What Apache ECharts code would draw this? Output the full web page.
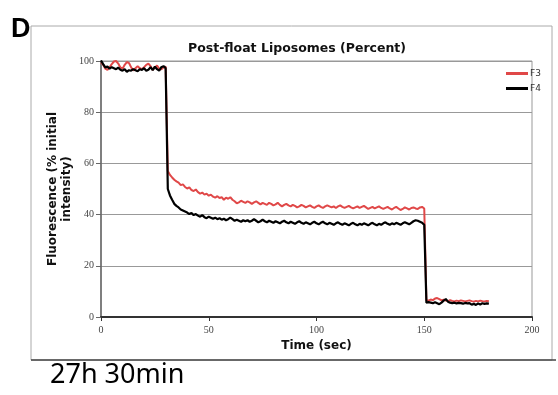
<!DOCTYPE html>
<html>
<head>
<meta charset="utf-8">
<script src="https://cdn.jsdelivr.net/npm/echarts@6/dist/echarts.min.js"></script>
<style>
  html, body { margin: 0; padding: 0; background: #fff; }
  #chart { width: 558px; height: 395px; }
</style>
</head>
<body>
<div id="chart"></div>
<script>
// sample spacing in seconds (values below are one reading per second, t = 0..180)
const STEP = 1;

const seriesNames = ["F3", "F4"];

const xTicks = [0, 50, 100, 150, 200];
const yTicks = [0, 20, 40, 60, 80, 100];

// F3 (red)
const f3Values = [
  99.5, 98.5, 97, 96.5, 97.5, 98.8, 99.8, 100, 99, 97.5,
  97, 98.5, 99.6, 99.2, 97.5, 96.3, 97.2, 98, 97.2, 96.8,
  97.6, 98.5, 99, 98, 96.5, 97.5, 98.2, 97, 96.8, 97.5,
  97.8, 57, 55.5, 54.5, 53.6, 53, 52.5, 51.5, 51.8, 50.8,
  50.2, 50.6, 49.6, 49.2, 49.8, 48.8, 48.2, 48.6, 47.8, 48.2,
  47.4, 47.8, 47, 46.6, 47.2, 46.5, 46.8, 45.8, 46.6, 46.2,
  46.8, 45.8, 45.2, 44.4, 44.8, 45.4, 45, 44.6, 45.2, 44.8,
  44.2, 44.8, 45.2, 44.6, 44, 44.6, 44.2, 43.8, 44.6, 44.2,
  43.6, 44, 44.6, 43.8, 43.2, 43.8, 44.2, 43.6, 43.2, 43.8,
  43.4, 42.8, 43.2, 43.8, 43.4, 42.8, 43.2, 43.6, 43, 42.6,
  43.2, 43.6, 43, 42.6, 43.2, 43.6, 43.2, 42.8, 43.2, 42.6,
  43.2, 43.6, 43, 42.6, 43, 43.4, 42.8, 42.4, 42.8, 43.2,
  42.6, 43, 43.4, 42.8, 42.2, 42.6, 43, 42.4, 42.8, 43.2,
  42.6, 42.2, 42.6, 43, 42.4, 42, 42.6, 43, 42.4, 41.8,
  42.2, 42.8, 42.4, 42, 42.6, 42.8, 42.4, 42.2, 42.8, 43,
  42.4, 6.5, 6.4, 6.8, 6.6, 7.2, 7.4, 7, 6.5, 6.8,
  6.4, 6.2, 6.6, 6.3, 6.1, 6.4, 6.2, 6.5, 6.3, 6.1,
  6.3, 6.5, 6.2, 6, 6.3, 6.1, 6.4, 6.2, 6.1, 6.3,
  6.2
];

// F4 (black)
const f4Values = [
  100.2, 98.8, 97.5, 97.8, 97, 97.6, 97.2, 96.8, 97.4, 96.6,
  96.2, 96.8, 95.8, 96.4, 96.2, 96.8, 96.4, 96, 96.8, 96.5,
  97.2, 96.2, 96.6, 97.6, 96.4, 97.8, 96.8, 96.2, 97.6, 98,
  97.2, 50, 47.5, 45.8, 44.2, 43.4, 42.8, 42, 41.6, 41.2,
  40.8, 40.2, 40.6, 39.8, 40.2, 39.6, 39.2, 39.8, 39, 38.6,
  39.2, 38.8, 38.4, 38.8, 38.2, 38.6, 38, 38.4, 37.8, 38.2,
  38.8, 38.2, 37.6, 38, 37.6, 37.2, 37.8, 37.4, 37.8, 37.2,
  37.6, 38.2, 37.6, 37, 37.4, 38, 37.4, 37, 37.6, 37.2,
  36.8, 37.4, 37, 36.6, 37.2, 37.6, 37, 36.6, 37.2, 36.8,
  36.4, 37, 37.4, 36.8, 36.4, 37, 36.6, 36.2, 36.8, 37.2,
  36.6, 36.2, 36.8, 37.2, 36.6, 36.2, 36.8, 36.4, 36, 36.6,
  37, 36.4, 36, 36.6, 36.2, 35.8, 36.4, 36.8, 36.2, 35.8,
  36.4, 36, 36.6, 36.2, 35.8, 36.4, 36.8, 36.2, 35.8, 36.4,
  36, 36.6, 37, 36.4, 36, 36.6, 36.2, 36.8, 36.4, 36,
  36.6, 37, 36.6, 36.2, 36.8, 37.4, 37.8, 37.6, 37.2, 36.8,
  36, 5.6, 5.8, 5.6, 5.4, 5.8, 5.4, 5, 5.6, 6.4,
  7, 6, 5.6, 5.4, 5.6, 5.3, 5.5, 5.4, 5.2, 5.5,
  5.3, 5.4, 4.8, 5.2, 4.7, 5.3, 4.9, 5.4, 5.1, 5.3,
  5.2
];

const toPoints = (values) => values.map((v, i) => [i * STEP, v]);

const chart = echarts.init(document.getElementById("chart"));

const labelFont = "DejaVu Sans";
const tickFont = "Liberation Serif";

chart.setOption({
  animation: false,
  backgroundColor: "#fff",
  title: {
    text: "Post-float Liposomes (Percent)",
    left: 292,
    top: 37,
    textAlign: "center",
    textStyle: {
      fontFamily: labelFont,
      fontWeight: "bold",
      fontSize: 12.5,
      color: "#111",
    },
  },
  legend: {
    data: seriesNames,
    orient: "vertical",
    left: 506,
    top: 68,
    padding: 0,
    itemGap: 4,
    itemWidth: 22,
    itemHeight: 3,
    icon: "rect",
    textStyle: {
      fontFamily: labelFont,
      fontSize: 9,
      lineHeight: 11,
      color: "#333",
      padding: [0, 0, 0, -3],
    },
  },
  grid: {
    left: 101,
    top: 61,
    width: 431,
    height: 256,
    show: true,
    borderColor: "#999",
    borderWidth: 1,
  },
  xAxis: {
    type: "value",
    min: xTicks[0],
    max: xTicks[xTicks.length - 1],
    interval: 50,
    name: "Time (sec)",
    nameLocation: "middle",
    nameGap: 22,
    nameTextStyle: {
      fontFamily: labelFont,
      fontWeight: "bold",
      fontSize: 12,
      color: "#111",
    },
    axisLine: { show: true, lineStyle: { color: "#333", width: 2 } },
    axisTick: { show: true, length: 4, lineStyle: { color: "#333" } },
    splitLine: { show: false },
    axisLabel: {
      margin: 8,
      fontFamily: tickFont,
      fontSize: 10,
      color: "#444",
    },
  },
  yAxis: {
    type: "value",
    min: yTicks[0],
    max: yTicks[yTicks.length - 1],
    interval: 20,
    name: "Fluorescence (% initial\nintensity)",
    nameLocation: "middle",
    nameGap: 27,
    nameMoveOverlap: false,
    nameTextStyle: {
      fontFamily: labelFont,
      fontWeight: "bold",
      fontSize: 12,
      lineHeight: 14,
      color: "#111",
      align: "center",
    },
    axisLine: { show: true, lineStyle: { color: "#666", width: 1.5 } },
    axisTick: { show: true, length: 5, lineStyle: { color: "#666" } },
    splitLine: { show: true, lineStyle: { color: "#999", width: 1 } },
    axisLabel: {
      margin: 7,
      fontFamily: tickFont,
      fontSize: 10,
      color: "#444",
    },
  },
  series: [
    {
      name: "F3",
      type: "line",
      showSymbol: false,
      data: toPoints(f3Values),
      lineStyle: { color: "#e04848", width: 2 },
      itemStyle: { color: "#e04848" },
      z: 2,
    },
    {
      name: "F4",
      type: "line",
      showSymbol: false,
      data: toPoints(f4Values),
      lineStyle: { color: "#000", width: 2.2 },
      itemStyle: { color: "#000" },
      z: 3,
    },
  ],
  graphic: [
    {
      type: "rect",
      shape: { x: 31, y: 26, width: 521, height: 334 },
      style: { fill: "none", stroke: "#aaa", lineWidth: 1 },
      silent: true,
      z: -1,
    },
    {
      type: "line",
      shape: { x1: 31, y1: 360, x2: 556, y2: 360 },
      style: { stroke: "#444", lineWidth: 1.5 },
      silent: true,
    },
    {
      type: "text",
      left: 11,
      top: 16,
      style: {
        text: "D",
        font: "bold 27px 'Liberation Sans'",
        fill: "#000",
      },
    },
    {
      type: "text",
      left: 50,
      top: 362,
      style: {
        text: "27h 30min",
        font: "27px 'Noto Sans'",
        fill: "#000",
      },
    },
  ],
});
</script>
</body>
</html>
